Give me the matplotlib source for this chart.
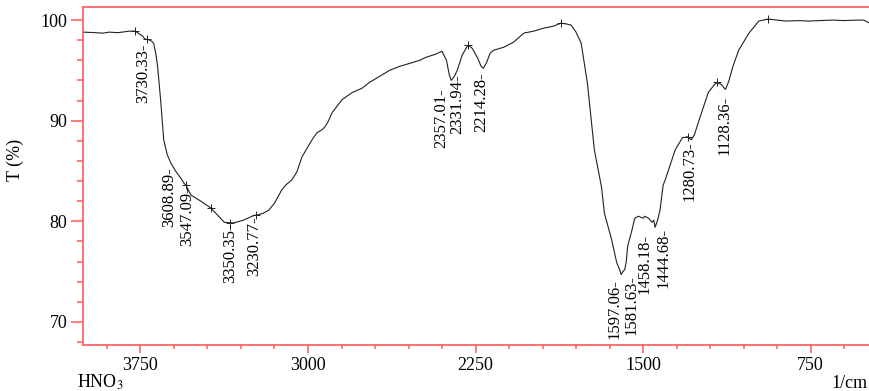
import numpy as np
import matplotlib.pyplot as plt
from matplotlib.ticker import MultipleLocator

plt.rcParams['font.family'] = ['Liberation Serif', 'DejaVu Serif']
plt.rcParams['mathtext.fontset'] = 'stix'

# spectrum (wavenumber in 1/cm, transmittance in %)
wavenumber = [4006, 3960, 3920, 3890, 3850, 3800, 3773, 3760, 3740, 3730, 3718, 3700,
              3691, 3680, 3673, 3660, 3646, 3630, 3614, 3609, 3590, 3570, 3556, 3547,
              3524, 3480, 3434, 3400, 3375, 3350, 3330, 3290, 3260, 3240, 3231, 3200,
              3176, 3150, 3118, 3100, 3073, 3050, 3027, 2982, 2960, 2937, 2924, 2910,
              2892, 2847, 2802, 2760, 2725, 2680, 2635, 2590, 2544, 2500, 2472, 2430,
              2400, 2380, 2368, 2359, 2345, 2332, 2310, 2290, 2282, 2265, 2240, 2225,
              2215, 2200, 2185, 2169, 2124, 2080, 2034, 1990, 1944, 1900, 1867, 1840,
              1822, 1800, 1777, 1749, 1718, 1686, 1673, 1641, 1618, 1605, 1598, 1590,
              1582, 1575, 1569, 1550, 1537, 1520, 1500, 1492, 1475, 1460, 1452, 1446,
              1435, 1424, 1410, 1401, 1356, 1324, 1300, 1284, 1270, 1253, 1208, 1180,
              1167, 1150, 1131, 1115, 1099, 1072, 1026, 982, 941, 900, 860, 800,
              760, 711, 650, 600, 540, 512, 495, 485, 470, 453]
transmittance = [98.8, 98.76, 98.7, 98.8, 98.75, 98.9, 98.9, 98.7, 98.4, 98.1, 98.1, 97.9,
                 97.7, 96.5, 95.3, 92.1, 88.1, 86.6, 85.8, 85.6, 84.9, 84.3, 83.8, 83.6,
                 82.6, 82.0, 81.3, 80.5, 79.9, 79.85, 79.85, 80.1, 80.4, 80.6, 80.6, 80.8,
                 81.1, 81.8, 83.1, 83.6, 84.1, 84.9, 86.4, 88.1, 88.8, 89.1, 89.4, 89.9,
                 90.8, 92.1, 92.8, 93.2, 93.8, 94.4, 95.0, 95.4, 95.7, 96.0, 96.3, 96.6,
                 96.9, 96.0, 94.6, 94.0, 94.4, 95.0, 96.5, 97.3, 97.5, 97.2, 96.2, 95.4,
                 95.2, 95.8, 96.7, 97.0, 97.3, 97.8, 98.7, 98.9, 99.2, 99.4, 99.7, 99.6,
                 99.5, 98.8, 97.7, 93.7, 87.1, 83.4, 80.8, 78.2, 75.9, 75.2, 74.7, 75.0,
                 75.2, 76.0, 77.5, 79.1, 80.3, 80.5, 80.3, 80.5, 80.3, 79.9, 80.1, 79.4,
                 80.1, 81.1, 83.6, 84.1, 87.1, 88.3, 88.4, 88.1, 88.6, 89.8, 92.8, 93.6,
                 93.8, 93.6, 93.1, 94.0, 95.3, 97.0, 98.7, 99.9, 100.1, 100.0, 99.9, 99.95,
                 99.9, 99.95, 100.0, 99.95, 100.0, 100.0, 99.8, 99.7, 99.9, 99.9]

# labelled peaks
peak_wn = [3730.33, 3608.89, 3547.09, 3350.35, 3230.77, 2357.01, 2331.94, 2214.28,
           1597.06, 1581.63, 1458.18, 1444.68, 1280.73, 1128.36]
peak_t = [98.1, 85.6, 83.7, 79.85, 80.6, 94.0, 95.0, 95.2,
          74.7, 75.2, 80.0, 79.4, 88.1, 93.1]
# label offsets in pixels (dx, dy)
label_offset = [(-2, -4), (-3, -2), (1, -2), (0, -1), (-2, -1), (-10, -8), (0, -4), (-2, -4),
                (-7, -5), (7, -5), (-8, -13), (8, -1), (-3, -1), (-2, -6)]

# small cross marks on the trace
mark_wn = [3773, 3722, 3547, 3434, 3350, 3231, 2282, 1867, 1300, 1167, 941]
mark_t = [98.9, 98.1, 83.6, 81.3, 79.85, 80.6, 97.5, 99.7, 88.4, 93.8, 100.1]

red = '#ff5a5a'

fig = plt.figure(figsize=(8.7, 3.91), dpi=100)
ax = fig.add_axes([83.3/870, 1 - 345/391, 1 - 83.3/870 + 0.01, (345 - 7)/391])

ax.plot(wavenumber, transmittance, color='#222222', lw=0.8)
ax.plot(mark_wn, mark_t, ls='none', marker='+', ms=6, mew=0.7, color='#222222')

px2pt = 0.72
for wn, t, (dx, dy) in zip(peak_wn, peak_t, label_offset):
    ax.annotate(f"{wn:.2f}-", xy=(wn, t), xytext=(dx*px2pt, dy*px2pt),
                textcoords='offset points', rotation=90, ha='center', va='top',
                fontsize=12, color='black')

ax.set_xlim(4006, 445)
ax.set_ylim(67.7, 101.3)
ax.xaxis.set_major_locator(MultipleLocator(750))
ax.xaxis.set_minor_locator(MultipleLocator(150))
ax.yaxis.set_major_locator(MultipleLocator(10))
ax.yaxis.set_minor_locator(MultipleLocator(2))

for s in ['left', 'bottom', 'top']:
    ax.spines[s].set_color(red)
    ax.spines[s].set_linewidth(1.2)
ax.spines['right'].set_visible(False)

ax.tick_params(axis='y', which='major', length=8.5, width=1.1, color=red, labelsize=13, pad=3)
ax.tick_params(axis='y', which='minor', length=4.5, width=1.1, color=red)
ax.tick_params(axis='x', which='major', length=5.5, width=1.1, color=red, labelsize=13, pad=3)
ax.tick_params(axis='x', which='minor', length=3, width=1.1, color=red)

fig.text(15/870, 1 - 160/391, "T (%)", rotation=90, ha='center', va='center', fontsize=13)
fig.text(77/870, 1 - 388/391, r"HNO$_3$", ha='left', va='baseline', fontsize=13)
fig.text(868/870, 1 - 388/391, "1/cm", ha='right', va='baseline', fontsize=13)

fig.savefig("out.png", dpi=100)
